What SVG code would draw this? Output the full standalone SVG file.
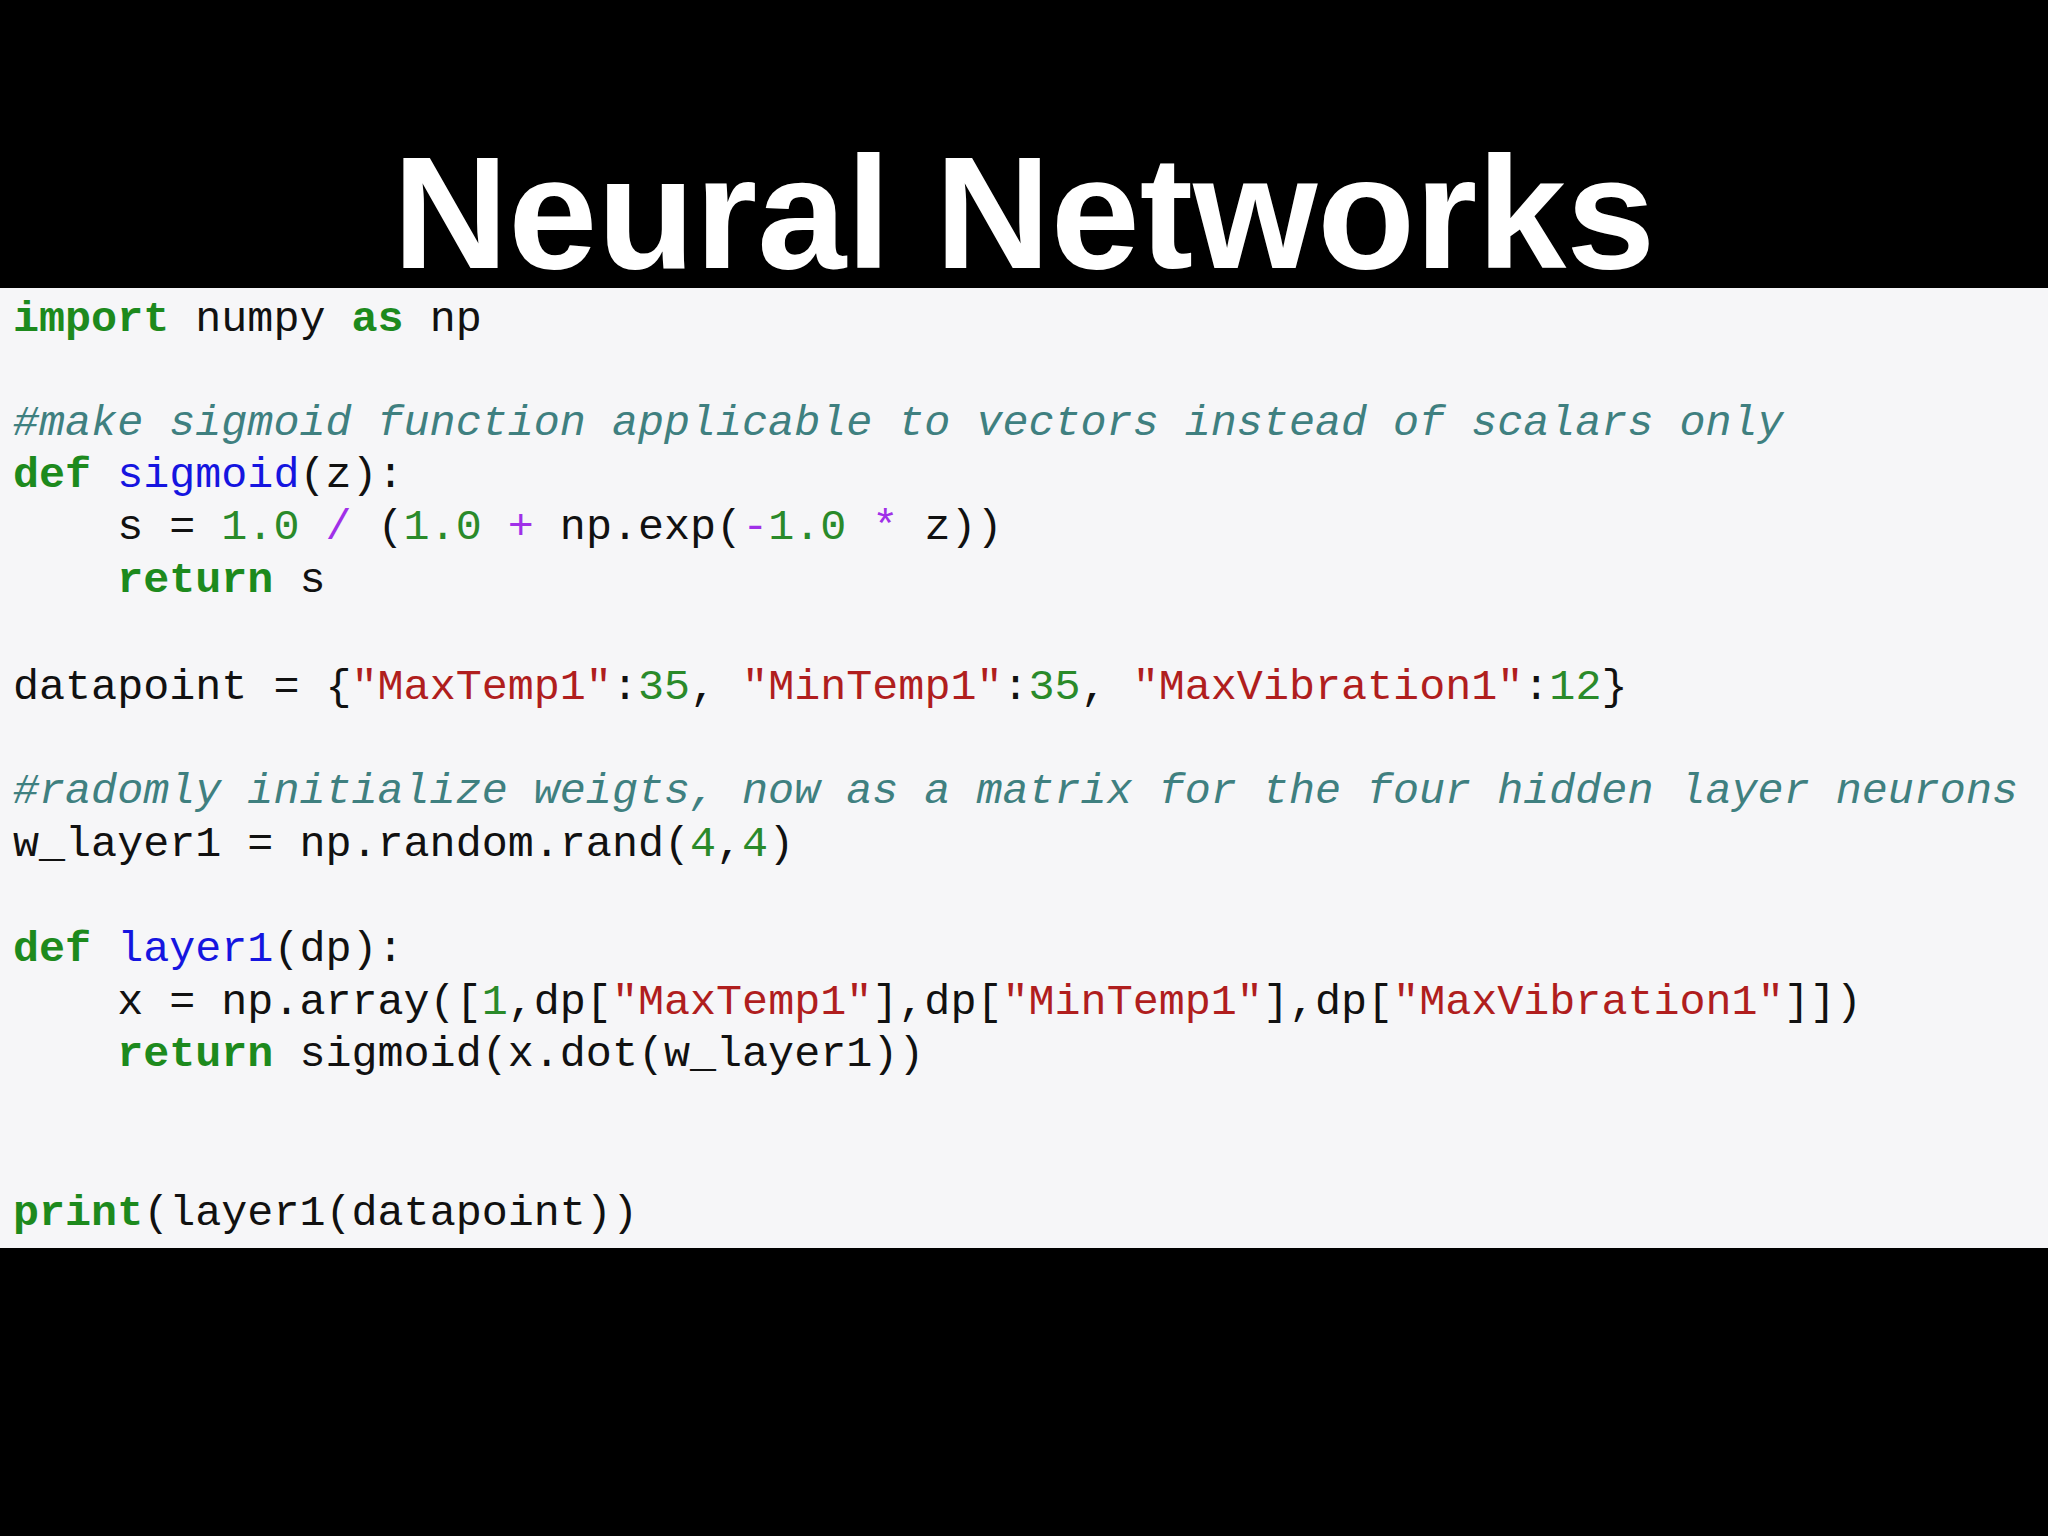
<svg xmlns="http://www.w3.org/2000/svg" width="2048" height="1536" viewBox="0 0 2048 1536">
<style>
.c{font-family:"Liberation Mono","DejaVu Sans Mono",monospace;font-size:43.4px;fill:#111;white-space:pre}
.k{fill:#1d8a1d;font-weight:bold}
.f{fill:#1515e0}
.n{fill:#2a8a2a}
.s{fill:#b01e1e}
.o{fill:#a030e8}
.m{fill:#3f8080;font-style:italic}
</style>
<rect width="2048" height="1536" fill="#000"/>
<rect x="0" y="288" width="2048" height="960" fill="#f6f6f8"/>
<text x="1024" y="268" text-anchor="middle" font-family="'Liberation Sans',Arial,sans-serif" font-weight="bold" font-size="160" fill="#fff">Neural Networks</text>
<g class="c" xml:space="preserve">
<text x="13" y="331" xml:space="preserve"><tspan class="k">import</tspan> numpy <tspan class="k">as</tspan> np</text>
<text x="13" y="435" class="c m">#make sigmoid function applicable to vectors instead of scalars only</text>
<text x="13" y="487" xml:space="preserve"><tspan class="k">def</tspan> <tspan class="f">sigmoid</tspan>(z):</text>
<text x="13" y="539" xml:space="preserve">    s = <tspan class="n">1.0</tspan> <tspan class="o">/</tspan> (<tspan class="n">1.0</tspan> <tspan class="o">+</tspan> np.exp(<tspan class="o">-</tspan><tspan class="n">1.0</tspan> <tspan class="o">*</tspan> z))</text>
<text x="13" y="592" xml:space="preserve">    <tspan class="k">return</tspan> s</text>
<text x="13" y="699" xml:space="preserve">datapoint = {<tspan class="s">"MaxTemp1"</tspan>:<tspan class="n">35</tspan>, <tspan class="s">"MinTemp1"</tspan>:<tspan class="n">35</tspan>, <tspan class="s">"MaxVibration1"</tspan>:<tspan class="n">12</tspan>}</text>
<text x="13" y="803" class="c m">#radomly initialize weigts, now as a matrix for the four hidden layer neurons</text>
<text x="13" y="856" xml:space="preserve">w_layer1 = np.random.rand(<tspan class="n">4</tspan>,<tspan class="n">4</tspan>)</text>
<text x="13" y="961" xml:space="preserve"><tspan class="k">def</tspan> <tspan class="f">layer1</tspan>(dp):</text>
<text x="13" y="1014" xml:space="preserve">    x = np.array([<tspan class="n">1</tspan>,dp[<tspan class="s">"MaxTemp1"</tspan>],dp[<tspan class="s">"MinTemp1"</tspan>],dp[<tspan class="s">"MaxVibration1"</tspan>]])</text>
<text x="13" y="1066" xml:space="preserve">    <tspan class="k">return</tspan> sigmoid(x.dot(w_layer1))</text>
<text x="13" y="1225" xml:space="preserve"><tspan class="k">print</tspan>(layer1(datapoint))</text>
</g>
</svg>
